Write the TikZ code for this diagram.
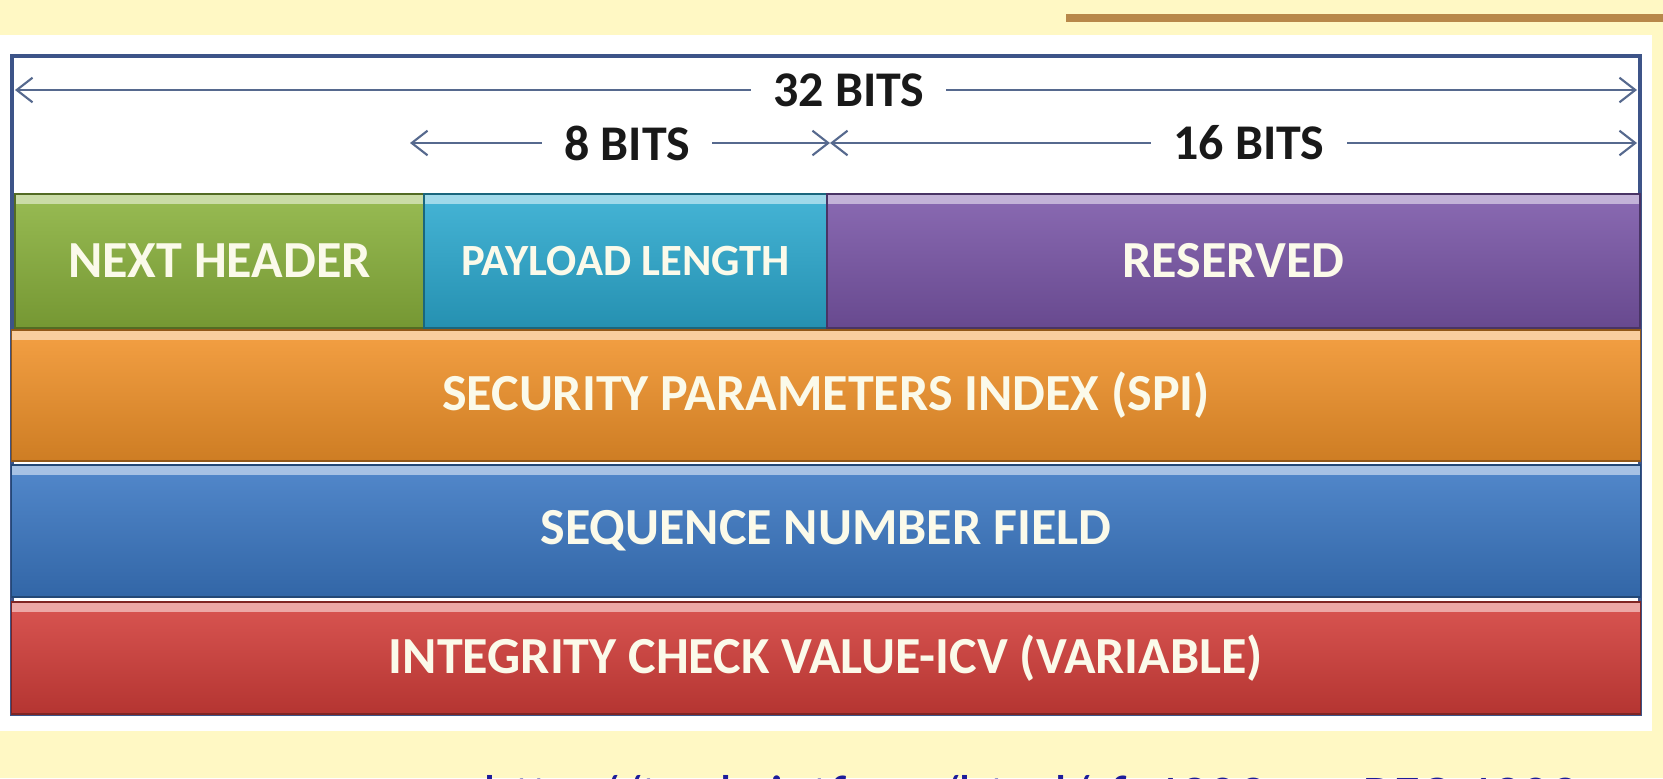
\documentclass[tikz,border=0pt]{standalone}
\usepackage{fontspec}
\setmainfont{Carlito}
\usepackage{xcolor}
\usepackage{tikz}
\usetikzlibrary{calc}
\usetikzlibrary{arrows.meta}

\definecolor{pagebg}{HTML}{FFF8C4}
\definecolor{rulebrown}{HTML}{B8884A}
\definecolor{framebl}{HTML}{3D5488}
\definecolor{dimline}{HTML}{56698E}
\definecolor{nhgreen}{HTML}{8AB23C}
\definecolor{plcyan}{HTML}{2CAAD0}
\definecolor{rspurple}{HTML}{7A56A8}
\definecolor{spiorange}{HTML}{F2932A}
\definecolor{seqblue}{HTML}{3B78C4}
\definecolor{icvred}{HTML}{D43E3A}
\definecolor{urlblue}{HTML}{1C1C9C}
\definecolor{labelcream}{HTML}{FBFAEA}

\newcommand{\barfont}{\fontsize{14.8}{16}\selectfont\bfseries}
\newcommand{\plfont}{\fontsize{12.7}{14}\selectfont\bfseries}
\newcommand{\dimfont}{\fontsize{14.2}{16}\selectfont\bfseries}
\newcommand{\urlfont}{\fontsize{16.4}{18}\selectfont}

\tikzset{
 field/.style={draw=#1!60!black, line width=.5pt, top color=#1!88!white, bottom color=#1!85!black,
   inner sep=0, text=labelcream, font=\barfont,
   path picture={\fill[#1!45!white] (path picture bounding box.north west) rectangle ([yshift=-1mm]path picture bounding box.north east);}},
 dim/.style={dimline, line width=.6pt, <->, >={Straight Barb[length=4.5pt,width=7pt]}},
 dimlbl/.style={fill=white, inner xsep=.22cm, inner ysep=1pt, text=black!90, font=\dimfont}
}

\begin{document}
\begin{tikzpicture}[x=.01cm, y=-.01cm]
\useasboundingbox (0,0) rectangle (1663,778);
\fill[pagebg] (0,0) rectangle (1663,778);
\draw[rulebrown, line width=2pt] (1066,18) -- (1663,18);
\fill[white] (0,35) rectangle (1652,731);
\draw[framebl, line width=1.4pt] (12,56) rectangle (1640,714);

% widths
\coordinate (w32) at (15,90);
\coordinate (e32) at (1637,90);
\coordinate (w8) at (410,143);
\coordinate (m8) at (830,143);
\coordinate (e16) at (1637,143);
\draw[dim] (w32) -- node[dimlbl, pos=.514] {32 BITS} (e32);
\draw[dim] (w8) -- node[dimlbl, pos=.517] {8 BITS} (m8);
\draw[dim] (m8) -- node[dimlbl, pos=.519] {16 BITS} (e16);

% first word
\node[field=nhgreen, minimum width=4.09cm, minimum height=1.34cm] (nexthdr) at (219.5,261) {NEXT HEADER};
\node[field=plcyan, minimum width=4.03cm, minimum height=1.34cm, font=\plfont] (paylen) at (625.5,261) {PAYLOAD LENGTH};
\node[field=rspurple, minimum width=8.13cm, minimum height=1.34cm] (resv) at (1233.5,261) {RESERVED};

% full words
\foreach \nm/\cl/\yc/\rh/\tx in {spi/spiorange/395.5/1.31/{SECURITY PARAMETERS INDEX (SPI)},
  seqno/seqblue/531/1.32/{SEQUENCE NUMBER FIELD},
  icv/icvred/658/1.12/{INTEGRITY CHECK VALUE-ICV (VARIABLE)}} {
 \node[field=\cl, minimum width=16.28cm, minimum height=\rh cm] (\nm) at (826,\yc) {\tx};
}

\node[anchor=base west, inner sep=0, text=urlblue, font=\urlfont] (url) at (483,815) {http://tools.ietf.org/html/rfc4302\hspace{.2cm} -- \hspace{.2cm}RFC 4302};
\end{tikzpicture}
\end{document}
